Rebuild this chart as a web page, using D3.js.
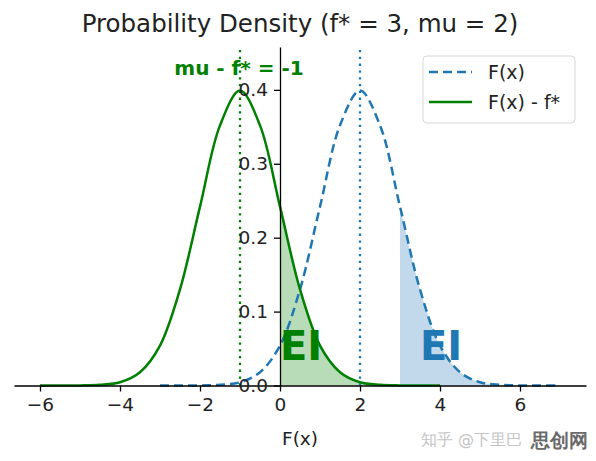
<html>
<head>
  <script src="https://d3js.org/d3.v7.min.js"></script>
  <style>
  body { margin: 0; background: #fff; }
  svg text { font-family: "DejaVu Sans", sans-serif; }
  </style>
</head>
<body>
  <svg width="596" height="461"></svg>

<script>
var greenX = [-6,-5.5,-5,-4.5,-4,-3.5,-3,-2.5,-2,-1.5,-1,-0.5,0,0.5,1,1.5,2,2.5,3,3.5,4];
var greenY = [0,0,0.0001,0.0009,0.0044,0.018,0.054,0.13,0.242,0.352,0.399,0.352,0.242,0.13,0.054,0.018,0.0044,0.0009,0.0001,0,0];
var blueX = [-3,-2.5,-2,-1.5,-1,-0.5,0,0.5,1,1.5,2,2.5,3,3.5,4,4.5,5,5.5,6,6.5,7];
var blueY = [0,0,0.0001,0.0009,0.0044,0.018,0.054,0.13,0.242,0.352,0.399,0.352,0.242,0.13,0.054,0.018,0.0044,0.0009,0.0001,0,0];
var xTicks = [-6,-4,-2,0,2,4,6];
var yTicks = [0,0.1,0.2,0.3,0.4];
var muShift = -1, mu = 2, fStar = 3;
var greenFillFrom = 0, blueFillFrom = 3;

var blue = "#1f77b4", green = "#008000";
var svg = d3.select("svg");

var x = d3.scaleLinear().domain([-6.65, 7.65]).range([14, 586]);
var y = d3.scaleLinear().domain([0, 0.458]).range([385.5, 47]);

var greenPts = greenX.map(function(d, i){ return [d, greenY[i]]; });
var bluePts = blueX.map(function(d, i){ return [d, blueY[i]]; });

var curve = d3.curveCatmullRom.alpha(0.5);
var line = d3.line().x(function(d){ return x(d[0]); }).y(function(d){ return y(d[1]); }).curve(curve);
var area = d3.area().x(function(d){ return x(d[0]); }).y0(y(0)).y1(function(d){ return y(d[1]); }).curve(curve);

// shaded EI regions
svg.append("path").attr("d", area(greenPts.filter(function(d){ return d[0] >= greenFillFrom; })))
  .attr("fill", green).attr("fill-opacity", 0.28);
svg.append("path").attr("d", area(bluePts.filter(function(d){ return d[0] >= blueFillFrom; })))
  .attr("fill", blue).attr("fill-opacity", 0.28);

// dotted mean lines
svg.append("line").attr("x1", x(muShift)).attr("x2", x(muShift)).attr("y1", y(0)).attr("y2", y(0.458))
  .attr("stroke", green).attr("stroke-width", 2.3).attr("stroke-dasharray", "2.3,4.5");
svg.append("line").attr("x1", x(mu)).attr("x2", x(mu)).attr("y1", y(0)).attr("y2", y(0.458))
  .attr("stroke", blue).attr("stroke-width", 2.3).attr("stroke-dasharray", "2.3,4.5");

// curves
svg.append("path").attr("d", line(bluePts)).attr("fill", "none")
  .attr("stroke", blue).attr("stroke-width", 2.5).attr("stroke-dasharray", "9,5");
svg.append("path").attr("d", line(greenPts)).attr("fill", "none")
  .attr("stroke", green).attr("stroke-width", 2.5);

// axes through zero
var xAxis = svg.append("g").attr("transform", "translate(0," + y(0) + ")")
  .call(d3.axisBottom(x).tickValues(xTicks).tickSize(6).tickSizeOuter(0).tickPadding(6));
var yAxis = svg.append("g").attr("transform", "translate(" + x(0) + ",0)")
  .call(d3.axisLeft(y).tickValues(yTicks).tickFormat(d3.format(".1f")).tickSize(6).tickSizeOuter(0).tickPadding(6));
svg.selectAll(".domain").attr("stroke", "#000").attr("stroke-width", 1.3);
svg.selectAll(".tick line").attr("stroke", "#000").attr("stroke-width", 1.3);
svg.selectAll(".tick text").attr("font-size", 18.5).attr("fill", "#222")
  .attr("font-family", "DejaVu Sans");

// EI labels
svg.append("text").attr("x", x(greenFillFrom)).attr("y", y(0.034)).text("EI")
  .attr("font-size", 40).attr("font-weight", "bold").attr("fill", green);
svg.append("text").attr("x", x(3.5)).attr("y", y(0.034)).text("EI")
  .attr("font-size", 40).attr("font-weight", "bold").attr("fill", blue);

// annotation
svg.append("text").attr("x", x(muShift) - 1).attr("y", 74.5).attr("text-anchor", "middle")
  .text("mu - f* = " + (mu - fStar)).attr("font-size", 20).attr("font-weight", "bold").attr("fill", green);

// title and label
svg.append("text").attr("x", 300).attr("y", 32).attr("text-anchor", "middle")
  .text("Probability Density (f* = " + fStar + ", mu = " + mu + ")").attr("font-size", 24.5).attr("fill", "#222");
svg.append("text").attr("x", 300).attr("y", 445).attr("text-anchor", "middle")
  .text("F(x)").attr("font-size", 18.5).attr("fill", "#222");

// legend
var lg = svg.append("g");
lg.append("rect").attr("x", 423).attr("y", 56).attr("width", 152).attr("height", 67).attr("rx", 4)
  .attr("fill", "#fff").attr("fill-opacity", 0.8).attr("stroke", "#d6d6d6");
lg.append("line").attr("x1", 429).attr("x2", 472).attr("y1", 72).attr("y2", 72)
  .attr("stroke", blue).attr("stroke-width", 2.5).attr("stroke-dasharray", "9,5");
lg.append("line").attr("x1", 429).attr("x2", 472).attr("y1", 102).attr("y2", 102)
  .attr("stroke", green).attr("stroke-width", 2.5);
lg.append("text").attr("x", 488).attr("y", 78.5).text("F(x)").attr("font-size", 19).attr("fill", "#222");
lg.append("text").attr("x", 488).attr("y", 108.5).text("F(x) - f*").attr("font-size", 19).attr("fill", "#222");

// watermark
svg.append("text").attr("x", 421).attr("y", 445).text("知乎 @下里巴")
  .attr("font-family", "Noto Sans CJK SC").attr("font-size", 16).attr("fill", "#c4c4c4");
svg.append("text").attr("x", 531).attr("y", 447).text("思创网")
  .attr("font-family", "Noto Sans CJK SC").attr("font-weight", "bold").attr("font-size", 19).attr("fill", "#6a6a6a");
</script>
</body></html>
